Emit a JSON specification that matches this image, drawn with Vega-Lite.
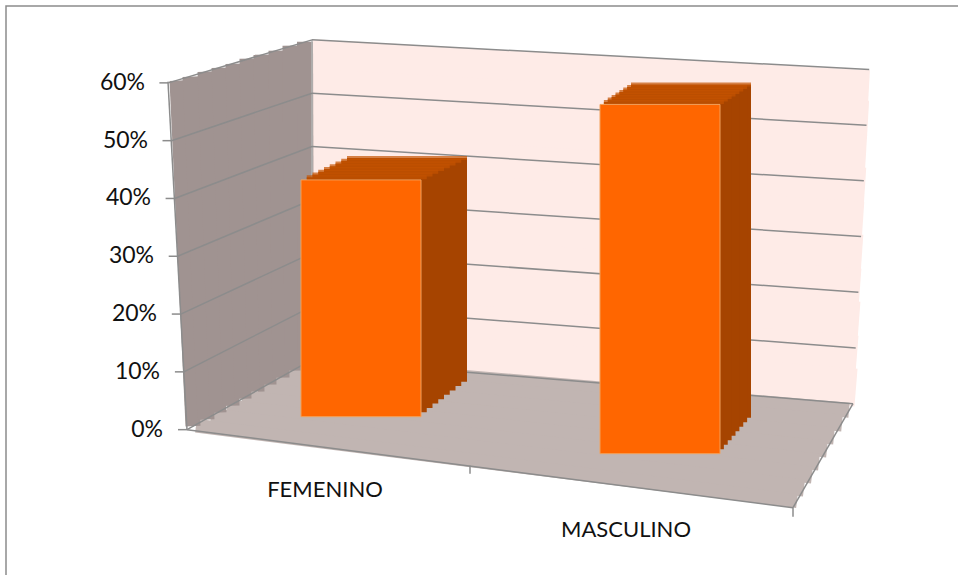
{"$schema":"https://vega.github.io/schema/vega-lite/v6.json","width":960,"height":580,"autosize":{"type":"none"},"padding":{"left":6,"top":6,"right":0,"bottom":0},"background":"white","view":{"stroke":"#8c8c8c","strokeWidth":1.5,"fill":"white"},"config":{"font":"Lato"},
"datasets":{"one":[{}],"bars":[{"sexo":"FEMENINO","v":0.42},{"sexo":"MASCULINO","v":0.58}],"grid":[{"v":0},{"v":0.1},{"v":0.2},{"v":0.3},{"v":0.4},{"v":0.5},{"v":0.6}]},
"layer":[
{"data":{"name":"one"},"encoding":{"x":{"datum":"FEMENINO","type":"nominal","scale":{"domain":["FEMENINO","MASCULINO"],"range":[205.5,803.5],"paddingInner":0,"paddingOuter":0},"axis":null},"x2":{"datum":"MASCULINO"},"y":{"datum":0,"type":"quantitative","scale":{"domain":[-0.2705,0.733],"nice":false,"zero":false},"axis":null},"y2":{"datum":0}},
"layer":[
{"mark":{"type":"rule","color":"#FEEBE7","strokeWidth":33,"xOffset":-49,"x2Offset":209,"yOffset":-374,"y2Offset":-343}},
{"mark":{"type":"rule","color":"#FEEBE7","strokeWidth":38,"xOffset":-49,"x2Offset":208,"yOffset":-342,"y2Offset":-310}},
{"mark":{"type":"rule","color":"#FEEBE7","strokeWidth":38,"xOffset":-49,"x2Offset":206,"yOffset":-310,"y2Offset":-276}},
{"mark":{"type":"rule","color":"#FEEBE7","strokeWidth":38,"xOffset":-49,"x2Offset":205,"yOffset":-278,"y2Offset":-243}},
{"mark":{"type":"rule","color":"#FEEBE7","strokeWidth":38,"xOffset":-49,"x2Offset":203,"yOffset":-246,"y2Offset":-209}},
{"mark":{"type":"rule","color":"#FEEBE7","strokeWidth":38,"xOffset":-49,"x2Offset":202,"yOffset":-214,"y2Offset":-176}},
{"mark":{"type":"rule","color":"#FEEBE7","strokeWidth":38,"xOffset":-49,"x2Offset":200,"yOffset":-182,"y2Offset":-142}},
{"mark":{"type":"rule","color":"#FEEBE7","strokeWidth":38,"xOffset":-49,"x2Offset":199,"yOffset":-150,"y2Offset":-109}},
{"mark":{"type":"rule","color":"#FEEBE7","strokeWidth":38,"xOffset":-49,"x2Offset":197,"yOffset":-118,"y2Offset":-75}},
{"mark":{"type":"rule","color":"#FEEBE7","strokeWidth":38,"xOffset":-49,"x2Offset":196,"yOffset":-86,"y2Offset":-42}},
{"mark":{"type":"rule","color":"#C1B5B2","strokeWidth":15,"xOffset":-57,"x2Offset":189,"yOffset":-66,"y2Offset":-19.5}},
{"mark":{"type":"rule","color":"#C1B5B2","strokeWidth":17,"xOffset":-72,"x2Offset":182,"yOffset":-57,"y2Offset":-6.5}},
{"mark":{"type":"rule","color":"#C1B5B2","strokeWidth":17,"xOffset":-88,"x2Offset":174,"yOffset":-48,"y2Offset":6.5}},
{"mark":{"type":"rule","color":"#C1B5B2","strokeWidth":17,"xOffset":-103,"x2Offset":167,"yOffset":-39,"y2Offset":19.5}},
{"mark":{"type":"rule","color":"#C1B5B2","strokeWidth":17,"xOffset":-119,"x2Offset":159,"yOffset":-31,"y2Offset":32.5}},
{"mark":{"type":"rule","color":"#C1B5B2","strokeWidth":17,"xOffset":-134,"x2Offset":152,"yOffset":-22,"y2Offset":45.5}},
{"mark":{"type":"rule","color":"#C1B5B2","strokeWidth":17,"xOffset":-150,"x2Offset":144,"yOffset":-13,"y2Offset":58.5}},
{"mark":{"type":"rule","color":"#C1B5B2","strokeWidth":14,"xOffset":-165,"x2Offset":137,"yOffset":-4,"y2Offset":71.5}},
{"mark":{"type":"rule","color":"#8c8c8c","strokeWidth":1.5,"xOffset":-174,"x2Offset":133,"yOffset":0,"y2Offset":78}},
{"mark":{"type":"rule","color":"#8c8c8c","strokeWidth":1.5,"xOffset":432,"x2Offset":193,"yOffset":78,"y2Offset":-26}}
]},
{"data":{"name":"one"},"encoding":{"x":{"datum":"FEMENINO","type":"nominal"},"x2":{"datum":"FEMENINO"},"y":{"datum":0,"type":"quantitative"},"y2":{"datum":0}},
"layer":[
{"mark":{"type":"rule","color":"#A09391","strokeWidth":15,"xOffset":-184,"x2Offset":-168,"yOffset":-349,"y2Offset":-3.5}},
{"mark":{"type":"rule","color":"#A09391","strokeWidth":17,"xOffset":-170,"x2Offset":-155,"yOffset":-353,"y2Offset":-10}},
{"mark":{"type":"rule","color":"#A09391","strokeWidth":17,"xOffset":-155,"x2Offset":-143,"yOffset":-358,"y2Offset":-17}},
{"mark":{"type":"rule","color":"#A09391","strokeWidth":17,"xOffset":-141,"x2Offset":-130,"yOffset":-362,"y2Offset":-24}},
{"mark":{"type":"rule","color":"#A09391","strokeWidth":17,"xOffset":-127,"x2Offset":-118,"yOffset":-366,"y2Offset":-31}},
{"mark":{"type":"rule","color":"#A09391","strokeWidth":17,"xOffset":-113,"x2Offset":-105,"yOffset":-371,"y2Offset":-38}},
{"mark":{"type":"rule","color":"#A09391","strokeWidth":17,"xOffset":-99,"x2Offset":-93,"yOffset":-375,"y2Offset":-45}},
{"mark":{"type":"rule","color":"#A09391","strokeWidth":17,"xOffset":-84,"x2Offset":-80,"yOffset":-379,"y2Offset":-52}},
{"mark":{"type":"rule","color":"#A09391","strokeWidth":17,"xOffset":-70,"x2Offset":-68,"yOffset":-384,"y2Offset":-59}},
{"mark":{"type":"rule","color":"#A09391","strokeWidth":16,"xOffset":-56,"x2Offset":-55,"yOffset":-388,"y2Offset":-66}},
{"mark":{"type":"rule","color":"#8c8c8c","strokeWidth":1.5,"xOffset":-193,"x2Offset":-174,"yOffset":-348,"y2Offset":0}},
{"mark":{"type":"rule","color":"#b5b5b5","strokeWidth":1.5,"xOffset":-49,"x2Offset":-49,"yOffset":-390,"y2Offset":-70}},
{"mark":{"type":"rule","color":"#8c8c8c","strokeWidth":1.5,"xOffset":109,"x2Offset":109,"yOffset":36,"y2Offset":44}},
{"mark":{"type":"rule","color":"#8c8c8c","strokeWidth":1.5,"xOffset":432,"x2Offset":432,"yOffset":78,"y2Offset":87}}
]},
{"data":{"name":"grid"},"encoding":{"x":{"datum":"FEMENINO","type":"nominal"},"y":{"field":"v","type":"quantitative"},"y2":{"field":"v"}},
"layer":[
{"encoding":{"x2":{"datum":"FEMENINO"}},"mark":{"type":"rule","color":"#8c8c8c","strokeWidth":1.5,"xOffset":{"expr":"-174-31*datum.v"},"x2Offset":-49,"yOffset":0,"y2Offset":{"expr":"-70+45*datum.v"}}},
{"encoding":{"x2":{"datum":"MASCULINO"}},"mark":{"type":"rule","color":"#8c8c8c","strokeWidth":1.5,"xOffset":-49,"x2Offset":{"expr":"193+27*datum.v"},"yOffset":{"expr":"-70+45*datum.v"},"y2Offset":{"expr":"-26+21*datum.v"}}},
{"encoding":{"x2":{"datum":"FEMENINO"}},"mark":{"type":"rule","color":"#8c8c8c","strokeWidth":1.5,"xOffset":{"expr":"-183-31*datum.v"},"x2Offset":{"expr":"-174-31*datum.v"},"yOffset":0,"y2Offset":0}},
{"encoding":{"y2":null,"text":{"field":"v","type":"quantitative","format":".0%"}},"mark":{"type":"text","fontSize":23,"color":"#111111","align":"right","dx":{"expr":"-198-30*datum.v"}}}
]},
{"data":{"name":"bars"},"encoding":{"x":{"field":"sexo","type":"nominal"},"y":{"field":"v","type":"quantitative"},"y2":{"datum":0}},
"layer":[
{"mark":{"type":"bar","size":120,"color":"#A64400","xOffset":{"expr":"(datum.sexo=='MASCULINO'?31:46)*1"},"yOffset":{"expr":"datum.sexo=='MASCULINO'?10-20*1:-7-22*1"},"y2Offset":{"expr":"datum.sexo=='MASCULINO'?24-36*1:-13-35*1"}}},
{"mark":{"type":"bar","size":120,"color":"#A64400","xOffset":{"expr":"(datum.sexo=='MASCULINO'?31:46)*0.875"},"yOffset":{"expr":"datum.sexo=='MASCULINO'?10-20*0.875:-7-22*0.875"},"y2Offset":{"expr":"datum.sexo=='MASCULINO'?24-36*0.875:-13-35*0.875"}}},
{"mark":{"type":"bar","size":120,"color":"#A64400","xOffset":{"expr":"(datum.sexo=='MASCULINO'?31:46)*0.75"},"yOffset":{"expr":"datum.sexo=='MASCULINO'?10-20*0.75:-7-22*0.75"},"y2Offset":{"expr":"datum.sexo=='MASCULINO'?24-36*0.75:-13-35*0.75"}}},
{"mark":{"type":"bar","size":120,"color":"#A64400","xOffset":{"expr":"(datum.sexo=='MASCULINO'?31:46)*0.625"},"yOffset":{"expr":"datum.sexo=='MASCULINO'?10-20*0.625:-7-22*0.625"},"y2Offset":{"expr":"datum.sexo=='MASCULINO'?24-36*0.625:-13-35*0.625"}}},
{"mark":{"type":"bar","size":120,"color":"#A64400","xOffset":{"expr":"(datum.sexo=='MASCULINO'?31:46)*0.5"},"yOffset":{"expr":"datum.sexo=='MASCULINO'?10-20*0.5:-7-22*0.5"},"y2Offset":{"expr":"datum.sexo=='MASCULINO'?24-36*0.5:-13-35*0.5"}}},
{"mark":{"type":"bar","size":120,"color":"#A64400","xOffset":{"expr":"(datum.sexo=='MASCULINO'?31:46)*0.375"},"yOffset":{"expr":"datum.sexo=='MASCULINO'?10-20*0.375:-7-22*0.375"},"y2Offset":{"expr":"datum.sexo=='MASCULINO'?24-36*0.375:-13-35*0.375"}}},
{"mark":{"type":"bar","size":120,"color":"#A64400","xOffset":{"expr":"(datum.sexo=='MASCULINO'?31:46)*0.25"},"yOffset":{"expr":"datum.sexo=='MASCULINO'?10-20*0.25:-7-22*0.25"},"y2Offset":{"expr":"datum.sexo=='MASCULINO'?24-36*0.25:-13-35*0.25"}}},
{"mark":{"type":"bar","size":120,"color":"#A64400","xOffset":{"expr":"(datum.sexo=='MASCULINO'?31:46)*0.125"},"yOffset":{"expr":"datum.sexo=='MASCULINO'?10-20*0.125:-7-22*0.125"},"y2Offset":{"expr":"datum.sexo=='MASCULINO'?24-36*0.125:-13-35*0.125"}}},
{"encoding":{"y2":null},"mark":{"type":"tick","orient":"horizontal","size":120,"thickness":4,"color":"#C45200","xOffset":{"expr":"(datum.sexo=='MASCULINO'?31:46)*1"},"yOffset":{"expr":"datum.sexo=='MASCULINO'?10-20*1:-7-22*1"}}},
{"encoding":{"y2":null},"mark":{"type":"tick","orient":"horizontal","size":120,"thickness":4,"color":"#C45200","xOffset":{"expr":"(datum.sexo=='MASCULINO'?31:46)*0.875"},"yOffset":{"expr":"datum.sexo=='MASCULINO'?10-20*0.875:-7-22*0.875"}}},
{"encoding":{"y2":null},"mark":{"type":"tick","orient":"horizontal","size":120,"thickness":4,"color":"#C45200","xOffset":{"expr":"(datum.sexo=='MASCULINO'?31:46)*0.75"},"yOffset":{"expr":"datum.sexo=='MASCULINO'?10-20*0.75:-7-22*0.75"}}},
{"encoding":{"y2":null},"mark":{"type":"tick","orient":"horizontal","size":120,"thickness":4,"color":"#C45200","xOffset":{"expr":"(datum.sexo=='MASCULINO'?31:46)*0.625"},"yOffset":{"expr":"datum.sexo=='MASCULINO'?10-20*0.625:-7-22*0.625"}}},
{"encoding":{"y2":null},"mark":{"type":"tick","orient":"horizontal","size":120,"thickness":4,"color":"#C45200","xOffset":{"expr":"(datum.sexo=='MASCULINO'?31:46)*0.5"},"yOffset":{"expr":"datum.sexo=='MASCULINO'?10-20*0.5:-7-22*0.5"}}},
{"encoding":{"y2":null},"mark":{"type":"tick","orient":"horizontal","size":120,"thickness":4,"color":"#C45200","xOffset":{"expr":"(datum.sexo=='MASCULINO'?31:46)*0.375"},"yOffset":{"expr":"datum.sexo=='MASCULINO'?10-20*0.375:-7-22*0.375"}}},
{"encoding":{"y2":null},"mark":{"type":"tick","orient":"horizontal","size":120,"thickness":4,"color":"#C45200","xOffset":{"expr":"(datum.sexo=='MASCULINO'?31:46)*0.25"},"yOffset":{"expr":"datum.sexo=='MASCULINO'?10-20*0.25:-7-22*0.25"}}},
{"encoding":{"y2":null},"mark":{"type":"tick","orient":"horizontal","size":120,"thickness":4,"color":"#C45200","xOffset":{"expr":"(datum.sexo=='MASCULINO'?31:46)*0.125"},"yOffset":{"expr":"datum.sexo=='MASCULINO'?10-20*0.125:-7-22*0.125"}}},
{"mark":{"type":"bar","size":120,"color":"#FF6600","stroke":"#F2A05A","strokeWidth":1,"yOffset":{"expr":"datum.sexo=='MASCULINO'?10:-7"},"y2Offset":{"expr":"datum.sexo=='MASCULINO'?24:-13"}}}
]},
{"data":{"name":"bars"},"encoding":{"x":{"field":"sexo","type":"nominal"},"y":{"datum":0,"type":"quantitative"},"text":{"field":"sexo"}},
"layer":[
{"transform":[{"filter":"datum.sexo=='FEMENINO'"}],"mark":{"type":"text","fontSize":22,"color":"#111111","dx":-36,"dy":60}},
{"transform":[{"filter":"datum.sexo=='MASCULINO'"}],"mark":{"type":"text","fontSize":22,"color":"#111111","dx":-34,"dy":100}}
]}
]}
